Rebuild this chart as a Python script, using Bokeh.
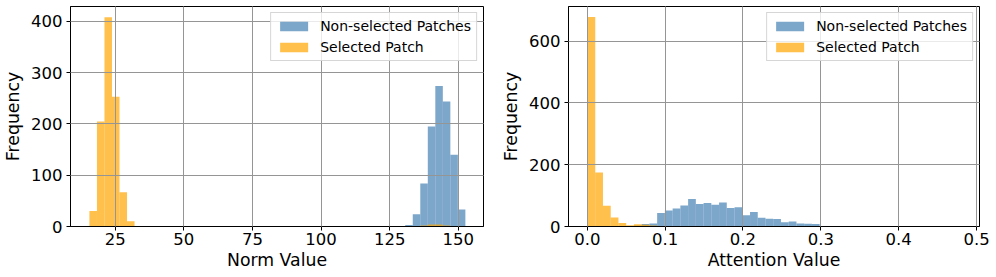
import numpy as np
from bokeh.plotting import figure
from bokeh.layouts import row
from bokeh.models import Range1d, FixedTicker, NumeralTickFormatter
from bokeh.embed import file_html
from bokeh.resources import INLINE

# ---------------- data ----------------
series_labels = ["Non-selected Patches", "Selected Patch"]

# Left panel: Norm Value histogram, 50 bins
norm_bin_start = 15.6
norm_bin_end = 152.6
norm_nonselected = [0, 0, 0, 0, 0, 0, 0, 0, 0, 0,
                    0, 0, 0, 0, 0, 0, 0, 0, 0, 0,
                    0, 0, 0, 0, 0, 0, 0, 0, 0, 0,
                    0, 0, 0, 0, 0, 0, 0, 0, 0, 0,
                    0, 0, 3, 24, 84, 195, 274, 244, 140, 33]
norm_selected = [30, 205, 408, 253, 67, 10, 0, 0, 0, 0,
                 0, 0, 0, 0, 0, 0, 0, 0, 0, 0,
                 0, 0, 0, 0, 0, 0, 0, 0, 0, 0,
                 0, 0, 0, 0, 0, 0, 1, 0, 0, 0,
                 0, 0, 0, 0, 2, 4, 4, 2, 0, 0]
norm_xticks = [25, 50, 75, 100, 125, 150]
norm_yticks = [0, 100, 200, 300, 400]

# Right panel: Attention Value histogram, 50 bins
att_bin_start = 0.0003
att_bin_end = 0.4973
att_nonselected = [0, 0, 0, 0, 0, 1, 3, 8, 10, 44,
                   52, 58, 68, 89, 73, 76, 70, 78, 60, 62,
                   36, 47, 28, 25, 24, 14, 16, 10, 9, 8,
                   2, 1, 1, 0, 1, 1, 0, 0, 0, 0,
                   0, 0, 1, 0, 0, 0, 0, 0, 0, 0]
att_selected = [678, 175, 67, 29, 11, 4, 7, 6, 3, 2,
                1, 0, 0, 0, 0, 0, 0, 0, 0, 0,
                0, 0, 0, 0, 0, 0, 0, 0, 0, 0,
                0, 0, 0, 0, 0, 0, 0, 0, 0, 0,
                0, 0, 0, 0, 0, 0, 0, 0, 0, 0]
att_xticks = [0.0, 0.1, 0.2, 0.3, 0.4, 0.5]
att_yticks = [0, 200, 400, 600]

BLUE = "steelblue"
ORANGE = "orange"
FONT = "DejaVu Sans"
FIG_H = 277
FRAME_W = 416


def make_panel(xlabel, x_range, y_range, bin_start, bin_end, nonsel, sel,
               xticks, yticks, border_left, border_right, xfmt=None):
    p = figure(width=border_left + FRAME_W + border_right, height=FIG_H,
               x_range=Range1d(*x_range), y_range=Range1d(*y_range),
               output_backend="svg", toolbar_location=None,
               min_border_left=border_left, min_border_right=border_right,
               min_border_top=6, min_border_bottom=51)
    edges = np.linspace(bin_start, bin_end, len(nonsel) + 1)
    p.quad(left=edges[:-1], right=edges[1:], bottom=0, top=nonsel,
           fill_color=BLUE, fill_alpha=0.7, line_color=None,
           legend_label=series_labels[0])
    p.quad(left=edges[:-1], right=edges[1:], bottom=0, top=sel,
           fill_color=ORANGE, fill_alpha=0.7, line_color=None,
           legend_label=series_labels[1])

    p.xaxis.ticker = FixedTicker(ticks=xticks)
    p.yaxis.ticker = FixedTicker(ticks=yticks)
    if xfmt is not None:
        p.xaxis.formatter = xfmt
    p.xgrid.ticker = FixedTicker(ticks=xticks)
    p.ygrid.ticker = FixedTicker(ticks=yticks)
    for g in (p.xgrid, p.ygrid):
        g.grid_line_color = "#959595"
        g.grid_line_width = 1
        g.level = "guide"

    p.xaxis.axis_label = xlabel
    p.yaxis.axis_label = "Frequency"
    for ax in (p.xaxis, p.yaxis):
        ax.axis_label_text_font = FONT
        ax.axis_label_text_font_size = "17.3px"
        ax.axis_label_text_font_style = "normal"
        ax.axis_label_text_color = "black"
        ax.major_label_text_font = FONT
        ax.major_label_text_font_size = "16.5px"
        ax.major_label_text_color = "black"
        ax.major_tick_out = 4
        ax.major_tick_in = 0
        ax.minor_tick_out = 0
        ax.minor_tick_in = 0
        ax.axis_line_color = "black"
        ax.major_tick_line_color = "black"
    p.xaxis.major_label_standoff = 2
    p.xaxis.axis_label_standoff = 2
    p.yaxis.major_label_standoff = 4
    p.yaxis.axis_label_standoff = 5

    p.outline_line_color = "black"
    p.outline_line_width = 1
    p.outline_line_alpha = 1

    lg = p.legend[0]
    lg.location = "top_right"
    lg.margin = 6
    lg.padding = 5
    lg.spacing = 5
    lg.glyph_width = 35
    lg.glyph_height = 12
    lg.label_height = 12
    lg.label_standoff = 9
    lg.label_text_font = FONT
    lg.label_text_font_size = "14px"
    lg.label_text_color = "black"
    lg.border_line_color = "#cccccc"
    lg.border_line_alpha = 0.8
    lg.background_fill_color = "white"
    lg.background_fill_alpha = 0.8
    return p


p1 = make_panel("Norm Value", (8.7, 159.2), (0, 429.2),
                norm_bin_start, norm_bin_end, norm_nonselected, norm_selected,
                norm_xticks, norm_yticks, 67, 15)
p2 = make_panel("Attention Value", (-0.0241, 0.5038), (0, 711.8),
                att_bin_start, att_bin_end, att_nonselected, att_selected,
                att_xticks, att_yticks, 65, 16, NumeralTickFormatter(format="0.0"))

layout = row(p1, p2)
open("out.html", "w").write(file_html(layout, INLINE))
